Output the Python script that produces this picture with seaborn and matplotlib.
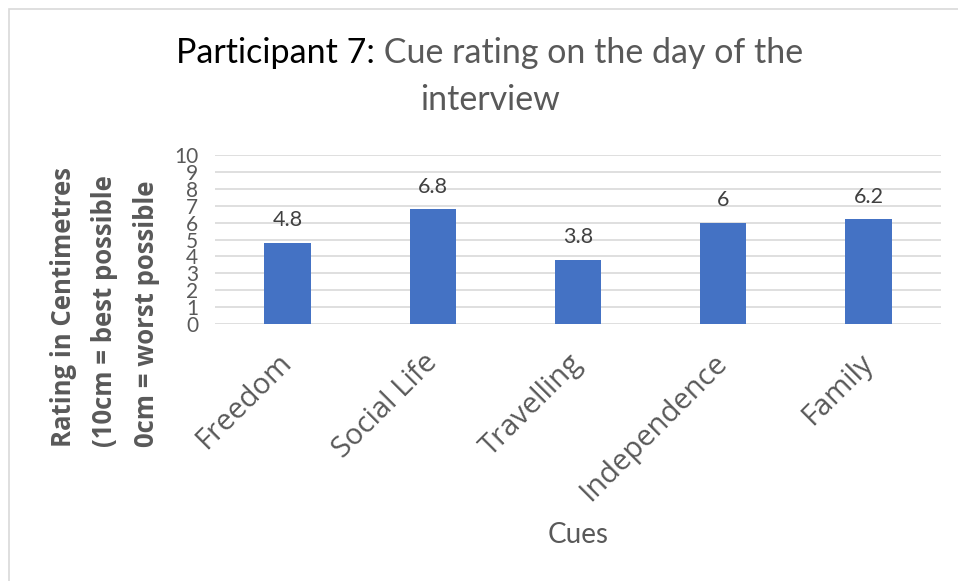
import matplotlib
matplotlib.use("Agg")
import matplotlib.pyplot as plt
import seaborn as sns
import pandas as pd
from matplotlib.patches import Rectangle

cues = ["Freedom", "Social Life", "Travelling", "Independence", "Family"]
ratings = [4.8, 6.8, 3.8, 6, 6.2]
yticks = list(range(0, 11))
title_bold = "Participant 7:"
title_rest = " Cue rating on the day of the"
title_line2 = "interview"
ylabel = "Rating in Centimetres\n(10cm = best possible\n0cm = worst possible"
xlabel = "Cues"

sns.set_theme(style="white")
plt.rcParams['font.family'] = ['Lato', 'DejaVu Sans']

W, H = 958, 581
fig = plt.figure(figsize=(W / 100, H / 100), dpi=100)
fig.patch.set_facecolor("white")
fig.patches.append(Rectangle((9 / W, -0.1), 1.2, (H - 9) / H + 0.1, transform=fig.transFigure,
                             fill=False, edgecolor="#D9D9D9", linewidth=1.2))

ax = fig.add_axes([215 / W, (H - 324) / H, (941 - 215) / W, (324 - 155) / H])
df = pd.DataFrame({"cue": cues, "rating": ratings})
sns.barplot(data=df, x="cue", y="rating", ax=ax, color="#4472C4", width=0.32,
            saturation=1, edgecolor="none")
ax.set_ylim(0, 10)
ax.set_yticks(yticks)
ax.set_yticklabels([str(t) for t in yticks])
ax.grid(axis="y", color="#D9D9D9", linewidth=1.2)
ax.set_axisbelow(True)
for s in ax.spines.values():
    s.set_visible(False)
ax.tick_params(axis="y", length=0, pad=12, labelsize=15, labelcolor="#595959")
ax.tick_params(axis="x", length=0, pad=25, labelsize=21, labelcolor="#595959")
for lab in ax.get_xticklabels():
    lab.set_rotation(45)
    lab.set_ha("right")
    lab.set_va("center")
    lab.set_rotation_mode("anchor")
    lab.set_family(["Open Sans", "DejaVu Sans"])

for c in ax.containers:
    ax.bar_label(c, labels=[f"{v:g}" for v in ratings], padding=9, fontsize=15.5, color="#404040")

ax.set_xlabel("")
ax.set_ylabel("")
fig.text(578 / W, 1 - 535 / H, xlabel, ha="center", va="center", fontsize=20, color="#595959")
fig.text(50 / W, 1 - 447 / H, ylabel, rotation=90, ha="left", va="bottom", fontsize=18.5,
         fontweight="bold", color="#595959", family=["Open Sans", "DejaVu Sans"],
         linespacing=1.68, multialignment="left")

# two-colour title
fig.canvas.draw()
r = fig.canvas.get_renderer()
ty = 1 - 53 / H
t1 = fig.text(0, ty, title_bold, ha="left", va="center", fontsize=24.5, color="black")
t2 = fig.text(0, ty, title_rest, ha="left", va="center", fontsize=24.5, color="#595959")
w1 = t1.get_window_extent(r).width
w2 = t2.get_window_extent(r).width
cx = 490
x0 = cx - (w1 + w2) / 2
t1.set_x(x0 / W)
t2.set_x((x0 + w1) / W)
fig.text(cx / W, 1 - 100 / H, title_line2, ha="center", va="center", fontsize=24.5, color="#595959")

fig.savefig("out.png", dpi=100)
